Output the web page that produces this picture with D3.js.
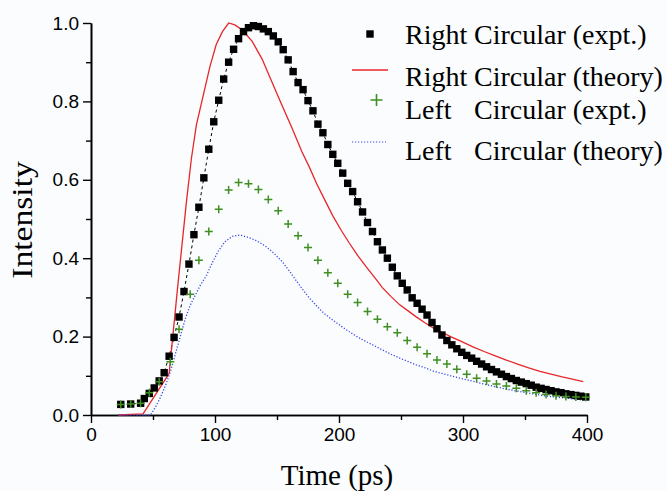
<!DOCTYPE html>
<html><head><meta charset="utf-8">
<script src="https://cdn.jsdelivr.net/npm/d3@7"></script>
<style>body{margin:0;background:#fafcfd;} svg{display:block;}</style>
</head><body>
<svg id="c" width="667" height="491"></svg>
<script>
// ---- data ----
const xTicks = [0, 100, 200, 300, 400];
const yTicks = [0.0, 0.2, 0.4, 0.6, 0.8, 1.0];
const legendLabels = ["Right Circular (expt.)", "Right Circular (theory)", "Left Circular (expt.)", "Left Circular (theory)"];

const rightExptT = [24,32,40,43,47,51,55,59,63,67,71,75,79,83,87,91,95,99,103,107,111,115,119,123,127,131,135,139,143,147,151,155,159,163,167,171,175,179,183,187,191,195,199,203,207,211,215,219,223,227,231,235,239,243,247,251,255,259,263,267,271,275,279,283,287,291,295,299,303,307,311,315,319,323,327,331,335,339,343,347,351,355,359,363,367,371,375,379,383,387,391,395,399];
const rightExptI = [0.027,0.028,0.030,0.042,0.055,0.069,0.087,0.108,0.150,0.198,0.250,0.315,0.385,0.460,0.530,0.605,0.678,0.748,0.803,0.857,0.900,0.933,0.960,0.978,0.988,0.993,0.991,0.985,0.978,0.967,0.952,0.932,0.906,0.876,0.848,0.830,0.802,0.776,0.742,0.720,0.690,0.665,0.642,0.617,0.591,0.570,0.544,0.518,0.491,0.468,0.442,0.421,0.400,0.377,0.355,0.336,0.319,0.299,0.285,0.270,0.255,0.236,0.220,0.204,0.190,0.179,0.169,0.160,0.152,0.145,0.137,0.130,0.123,0.116,0.110,0.104,0.098,0.093,0.088,0.084,0.080,0.076,0.071,0.068,0.065,0.062,0.059,0.057,0.054,0.052,0.050,0.048,0.046];

const rightTheoryT = [22,42,63,70,77,81,85,91,96,101,106,111,116,122,130,138,146,154,162,170,176,182,188,195,202,208,215,222,229,235,242,249,256,262,269,276,283,290,299,308,317,326,335,344,353,362,371,380,389,397];
const rightTheoryI = [0.000,0.003,0.106,0.330,0.545,0.655,0.740,0.822,0.890,0.945,0.978,1.000,0.995,0.982,0.953,0.908,0.849,0.790,0.733,0.672,0.633,0.590,0.552,0.508,0.470,0.440,0.407,0.378,0.350,0.325,0.302,0.281,0.265,0.251,0.236,0.222,0.211,0.200,0.187,0.174,0.162,0.151,0.140,0.130,0.120,0.111,0.104,0.097,0.091,0.085];

const leftExptT = [24,32,40,47,55,64,71,80,87,95,103,111,119,127,135,143,151,159,167,175,183,191,199,207,215,223,231,239,247,255,263,271,279,287,295,303,311,319,327,335,343,351,359,367,375,383,391,399];
const leftExptI = [0.027,0.028,0.030,0.057,0.085,0.136,0.219,0.308,0.395,0.468,0.525,0.574,0.593,0.590,0.575,0.550,0.521,0.487,0.457,0.427,0.395,0.363,0.336,0.308,0.287,0.264,0.244,0.225,0.210,0.190,0.173,0.156,0.140,0.130,0.117,0.104,0.094,0.087,0.079,0.074,0.068,0.062,0.057,0.052,0.049,0.047,0.046,0.045];

const leftTheoryT = [22,48,52,56,60,64,68,72,76,80,84,88,93,98,103,108,114,120,127,134,141,147,154,160,165,170,176,182,188,195,202,208,215,222,229,235,242,249,256,262,269,276,283,290,299,308,317,326,335,344,353,362,371,380,389,397];
const leftTheoryI = [0.000,0.000,0.020,0.045,0.075,0.110,0.155,0.200,0.245,0.280,0.305,0.330,0.355,0.390,0.420,0.442,0.456,0.459,0.453,0.444,0.430,0.414,0.392,0.367,0.345,0.323,0.299,0.278,0.259,0.242,0.226,0.213,0.199,0.187,0.176,0.166,0.155,0.145,0.136,0.128,0.121,0.112,0.106,0.100,0.093,0.086,0.079,0.072,0.066,0.061,0.056,0.051,0.047,0.044,0.041,0.038];

// ---- layout ----
const svg = d3.select("#c");
svg.append("rect").attr("width",667).attr("height",491).attr("fill","#fafcfd");
const x = d3.scaleLinear().domain([0,400]).range([91,587]);
const y = d3.scaleLinear().domain([0,1]).range([415,23]);
const RED = "#e8262a", GREEN = "#3f8f22", BLUE = "#3a48e6";

const zip = (t,v) => t.map((d,i)=>[d,v[i]]);
const rE = zip(rightExptT,rightExptI), rT = zip(rightTheoryT,rightTheoryI);
const lE = zip(leftExptT,leftExptI), lT = zip(leftTheoryT,leftTheoryI);
const line = d3.line().x(d=>x(d[0])).y(d=>y(d[1]));

// axes
const tickFont = "'Liberation Sans', Arial, sans-serif";
const xAxis = d3.axisBottom(x).tickValues(xTicks).tickFormat(d3.format("d")).tickSize(8).tickPadding(5).tickSizeOuter(0);
const xMinor = d3.axisBottom(x).tickValues([50,150,250,350]).tickFormat("").tickSize(5).tickSizeOuter(0);
const yAxis = d3.axisLeft(y).tickValues(yTicks).tickFormat(d3.format(".1f")).tickSize(8).tickPadding(4).tickSizeOuter(0);
const yMinor = d3.axisLeft(y).tickValues([0.1,0.3,0.5,0.7,0.9]).tickFormat("").tickSize(5).tickSizeOuter(0);

function styleAxis(g){
  g.selectAll("path").attr("stroke","#000").attr("stroke-width",1.6);
  g.selectAll("line").attr("stroke","#000").attr("stroke-width",1.4);
  g.selectAll("text").attr("font-family",tickFont).attr("font-size",19).attr("fill","#000");
}
svg.append("g").attr("transform","translate(0,415)").call(xMinor).call(styleAxis);
svg.append("g").attr("transform","translate(0,415)").call(xAxis).call(styleAxis);
svg.append("g").attr("transform","translate(91,0)").call(yMinor).call(styleAxis);
svg.append("g").attr("transform","translate(91,0)").call(yAxis).call(styleAxis);

// series
svg.append("path").datum(rE).attr("d",line).attr("fill","none").attr("stroke","#000").attr("stroke-width",1).attr("stroke-dasharray","3,3");
svg.append("path").datum(rT).attr("d",line).attr("fill","none").attr("stroke",RED).attr("stroke-width",1.3);
svg.append("path").datum(lT).attr("d",line).attr("fill","none").attr("stroke",BLUE).attr("stroke-width",1.3).attr("stroke-dasharray","1.2,1.8");

const sq = 7.4;
svg.append("g").selectAll("rect").data(rE).join("rect")
  .attr("x",d=>x(d[0])-sq/2).attr("y",d=>y(d[1])-sq/2).attr("width",sq).attr("height",sq).attr("fill","#000");

const ps = 4;
svg.append("g").selectAll("path").data(lE).join("path")
  .attr("d",d=>{const cx=x(d[0]), cy=y(d[1]); return `M${cx-ps},${cy}H${cx+ps}M${cx},${cy-ps}V${cy+ps}`;})
  .attr("stroke",GREEN).attr("stroke-width",1.5).attr("fill","none");

// axis titles
const serif = "'Liberation Serif', 'Times New Roman', serif";
svg.append("text").attr("x",337).attr("y",485).attr("text-anchor","middle")
  .attr("font-family",serif).attr("font-size",29).text("Time (ps)");
svg.append("text").attr("transform","translate(32,220) rotate(-90) scale(1.12,1)").attr("text-anchor","middle")
  .attr("font-family",serif).attr("font-size",30).text("Intensity");

// legend
const lg = svg.append("g").attr("font-family",serif).attr("font-size",28).attr("fill","#000");
const rows = [44,86,119,160];
function legText(i){
  const parts = legendLabels[i].split(" ");
  const t = lg.append("text").attr("y",rows[i]);
  t.append("tspan").attr("x",405).text(parts[0]);
  t.append("tspan").attr("x",474).text(parts.slice(1).join(" "));
}
legendLabels.forEach((d,i)=>legText(i));
lg.append("rect").attr("x",370-sq/2).attr("y",34-sq/2).attr("width",sq).attr("height",sq).attr("fill","#000");
lg.append("line").attr("x1",352).attr("x2",388).attr("y1",70).attr("y2",70).attr("stroke",RED).attr("stroke-width",1.3);
lg.append("path").attr("d","M370.5,100H382.5M376.5,94V106").attr("stroke",GREEN).attr("stroke-width",1.6);
lg.append("line").attr("x1",352).attr("x2",386).attr("y1",142).attr("y2",142).attr("stroke",BLUE).attr("stroke-width",1.2).attr("stroke-dasharray","1.2,1.8");
</script>
</body></html>
